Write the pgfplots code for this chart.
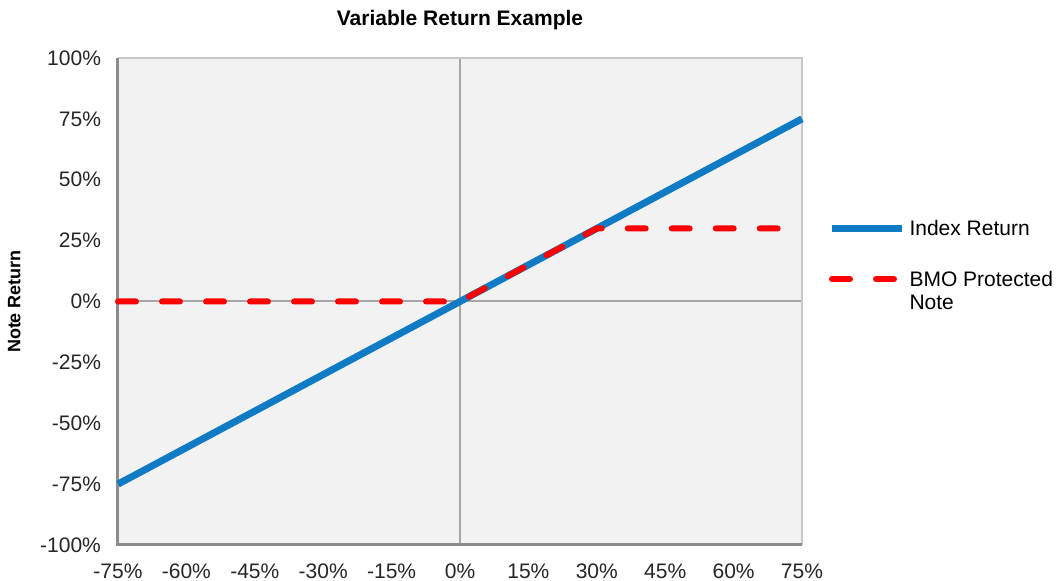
\documentclass[border=0pt]{standalone}
\usepackage{pgfplots}
\pgfplotsset{compat=1.18}
\usepackage{fontspec}
\setmainfont{Liberation Sans}

\definecolor{idxblue}{HTML}{0F7BC4}
\definecolor{notered}{HTML}{FF0000}
\definecolor{plotbg}{HTML}{F2F2F2}
\definecolor{zerogray}{HTML}{A6A6A6}
\definecolor{framegray}{HTML}{8C8C8C}
\definecolor{edgegray}{HTML}{C8C8C8}

\begin{document}
\begin{tikzpicture}
  \begin{axis}[
    scale only axis,
    width=342pt, height=243.5pt,
    xmin=-75, xmax=75, ymin=-100, ymax=100,
    axis line style={draw=none},
    axis background/.style={fill=plotbg},
    major tick length=0pt,
    xtick={-75,-60,-45,-30,-15,0,15,30,45,60,75},
    xticklabels={-75\%,-60\%,-45\%,-30\%,-15\%,0\%,15\%,30\%,45\%,60\%,75\%},
    ytick={-100,-75,-50,-25,0,25,50,75,100},
    yticklabels={-100\%,-75\%,-50\%,-25\%,0\%,25\%,50\%,75\%,100\%},
    ticklabel style={font=\fontsize{10.5}{12}\selectfont, text=black!85},
    xticklabel style={yshift=-6pt},
    yticklabel style={xshift=-5pt},
    extra x ticks={0}, extra x tick labels={},
    extra y ticks={0}, extra y tick labels={},
    extra tick style={grid=major, major grid style={draw=zerogray, line width=1pt}},
    title={Variable Return Example},
    title style={font=\bfseries\fontsize{10.5}{12}\selectfont, yshift=4.5pt},
    ylabel={Note Return},
    ylabel style={font=\bfseries\fontsize{9}{11}\selectfont, yshift=3pt},
    clip=false,
    legend style={
      at={(axis description cs:1.044,0.651)}, anchor=west,
      xshift=-5pt, yshift=-13.5pt,
      draw=none, fill=none,
      font=\fontsize{10.5}{12.5}\selectfont,
      row sep=11pt,
      cells={anchor=base west},
    },
    legend image code/.code={\draw[#1] (0pt,3.6pt) -- (35pt,3.6pt);},
  ]
    \draw[edgegray, line width=0.6pt] (rel axis cs:0,1) -- (rel axis cs:1,1) -- (rel axis cs:1,0);
    \draw[framegray, line width=1.5pt] (rel axis cs:0,1) -- (rel axis cs:0,0) -- (rel axis cs:1,0);

    \addplot[idxblue, line width=3.5pt] coordinates {
      (-75,-75) (75,75)
    };
    \addlegendentry{Index Return}

    \addplot[notered, line width=3pt, line cap=round, dash pattern=on 9pt off 13pt] coordinates {
      (-75,0) (0,0) (30,30) (75,30)
    };
    \addlegendentry{\begin{tabular}[t]{@{}l@{}}BMO Protected\\[-1pt]Note\end{tabular}}
  \end{axis}
  \pgfresetboundingbox
  \path (-59pt,-18pt) rectangle (470pt,272.5pt);
\end{tikzpicture}
\end{document}
